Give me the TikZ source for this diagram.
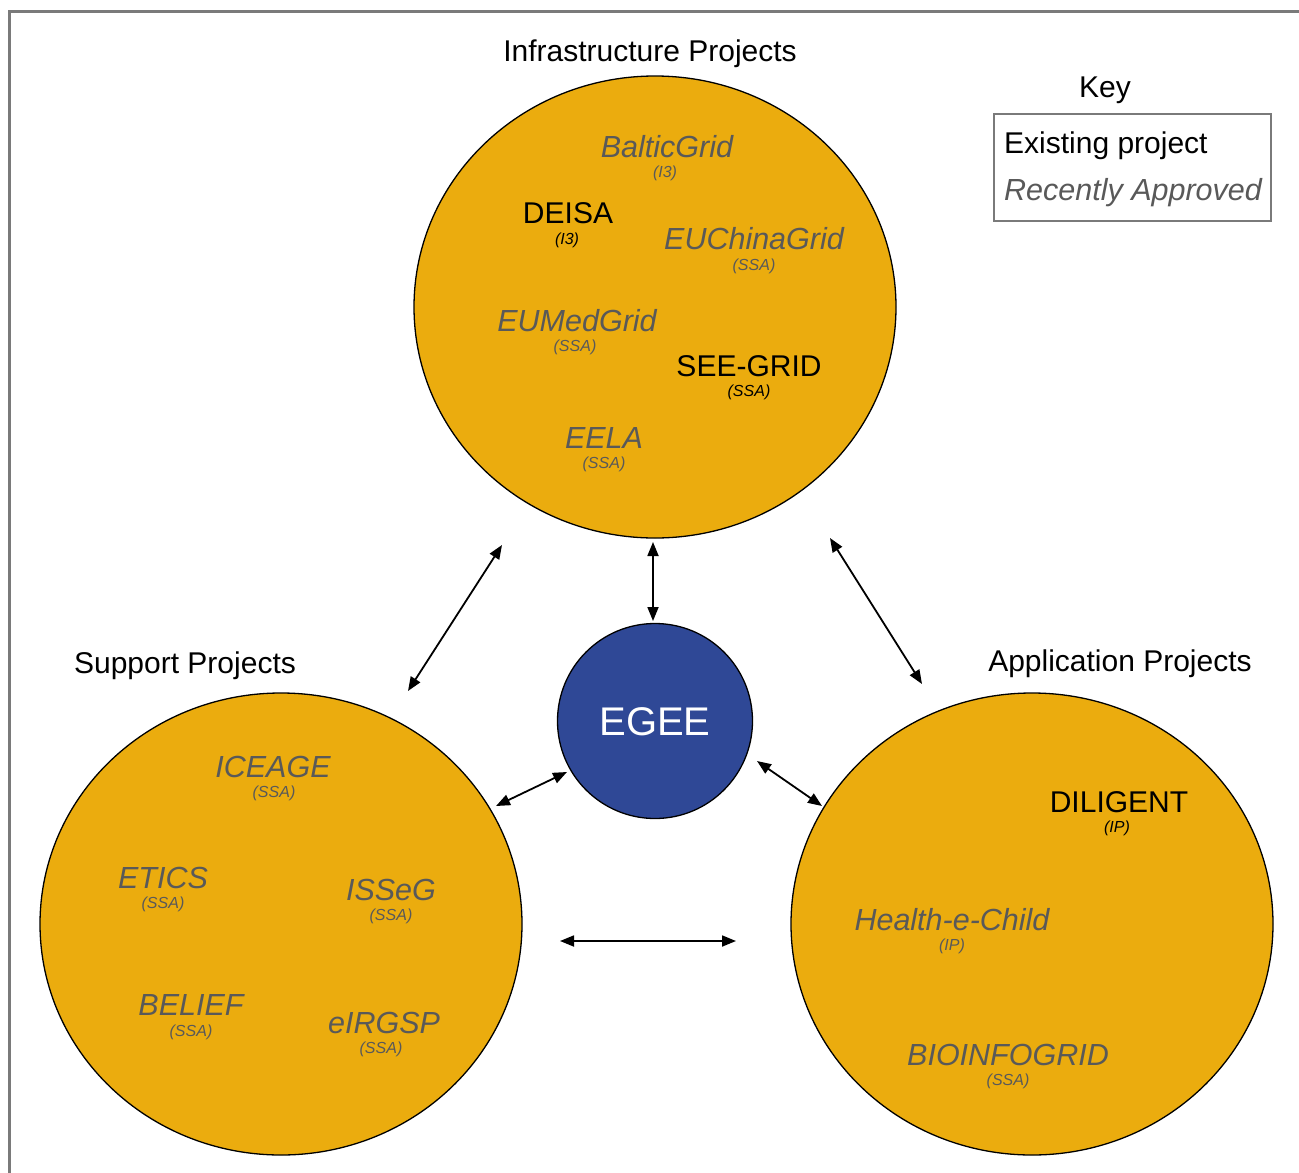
\documentclass[tikz,border=0pt]{standalone}
\usepackage{fontspec}
\setmainfont{Liberation Sans}
\usetikzlibrary{shapes.geometric,arrows.meta}
\definecolor{projorange}{HTML}{EBAC0E}
\definecolor{egeeblue}{HTML}{2F4896}
\definecolor{recentgray}{HTML}{595959}
\definecolor{framegray}{HTML}{7A7A7A}
\tikzset{
  group/.style={ellipse, draw=black, line width=1.3pt, fill=projorange, minimum width=482pt, minimum height=462pt, inner sep=0pt},
  core/.style={circle, draw=black, line width=1.3pt, fill=egeeblue, minimum size=195pt, inner sep=0pt},
  big/.style={anchor=base, inner sep=0pt, font=\fontsize{30}{30}\selectfont},
  head/.style={anchor=base, inner sep=0pt, font=\fontsize{30}{30}\selectfont},
  small/.style={anchor=base, inner sep=0pt, font=\itshape\fontsize{16}{16}\selectfont},
  existing/.style={big, text=black},
  recent/.style={big, text=recentgray, font=\itshape\fontsize{30.5}{30.5}\selectfont},
  existsub/.style={small, text=black},
  recentsub/.style={small, text=recentgray},
  link/.style={line width=1.8pt, {Triangle[length=14pt,width=11pt]}-{Triangle[length=14pt,width=11pt]}},
}
\begin{document}
\begin{tikzpicture}[x=1pt,y=-1pt]
\useasboundingbox (0,0) rectangle (1299,1173);
\fill[white] (0,0) rectangle (1299,1173);
% frame
\draw[framegray, line width=3pt] (9.5,1173) -- (9.5,11.5) -- (1299,11.5);

% groups
\node[group] (infra) at (655,307) {};
\node[group] (support) at (281,924) {};
\node[group] (appl) at (1032,924) {};
\node[core] (egee) at (655,721) {};
\node[anchor=base, inner sep=0pt, text=white, font=\fontsize{40}{40}\selectfont] (egeetext) at (655,735) {EGEE};

% headings
\node[head] (hinfra) at (650,61) {Infrastructure Projects};
\node[head] (hsupport) at (185,673) {Support Projects};
\node[head] (happl) at (1120,671) {Application Projects};

% key
\node[head] (keytitle) at (1105,97) {Key};
\draw[framegray, line width=2.5pt] (994,114) rectangle (1271,221);
\node[existing, anchor=base west] (keyexist) at (1004,153) {Existing project};
\node[recent, anchor=base west] (keyrecent) at (1004,200) {Recently Approved};

% infrastructure projects
\node[recent] (baltic) at (667,157) {BalticGrid};
\node[recentsub] (balticsub) at (665,177) {(I3)};
\node[existing] (deisa) at (568,223) {DEISA};
\node[existsub] (deisasub) at (567,244) {(I3)};
\node[recent] (euchina) at (754,249) {EUChinaGrid};
\node[recentsub] (euchinasub) at (754,270) {(SSA)};
\node[recent] (eumed) at (577,331) {EUMedGrid};
\node[recentsub] (eumedsub) at (575,351) {(SSA)};
\node[existing] (seegrid) at (749,376) {SEE-GRID};
\node[existsub] (seegridsub) at (749,396) {(SSA)};
\node[recent] (eela) at (604,448) {EELA};
\node[recentsub] (eelasub) at (604,468) {(SSA)};

% support projects
\node[recent] (iceage) at (273,777) {ICEAGE};
\node[recentsub] (iceagesub) at (274,797) {(SSA)};
\node[recent] (etics) at (163,888) {ETICS};
\node[recentsub] (eticssub) at (163,908) {(SSA)};
\node[recent] (isseg) at (391,900) {ISSeG};
\node[recentsub] (issegsub) at (391,920) {(SSA)};
\node[recent] (belief) at (191,1015) {BELIEF};
\node[recentsub] (beliefsub) at (191,1036) {(SSA)};
\node[recent] (eirgsp) at (384,1033) {eIRGSP};
\node[recentsub] (eirgspsub) at (381,1053) {(SSA)};

% application projects
\node[existing] (diligent) at (1119,812) {DILIGENT};
\node[existsub] (diligentsub) at (1117,832) {(IP)};
\node[recent] (health) at (952,930) {Health-e-Child};
\node[recentsub] (healthsub) at (952,950) {(IP)};
\node[recent] (bioinfo) at (1008,1065) {BIOINFOGRID};
\node[recentsub] (bioinfosub) at (1008,1085) {(SSA)};

% connector ends
\coordinate (c1a) at (502,545);
\coordinate (c1b) at (408,691);
\coordinate (c2a) at (653,542);
\coordinate (c2b) at (653,621);
\coordinate (c3a) at (830,538);
\coordinate (c3b) at (922,684);
\coordinate (c4a) at (496,806);
\coordinate (c4b) at (567,772);
\coordinate (c5a) at (757,761);
\coordinate (c5b) at (822,806);
\coordinate (c6a) at (560,941);
\coordinate (c6b) at (736,941);

\draw[link] (c1a) -- (c1b);
\draw[link] (c2a) -- (c2b);
\draw[link] (c3a) -- (c3b);
\draw[link] (c4a) -- (c4b);
\draw[link] (c5a) -- (c5b);
\draw[link] (c6a) -- (c6b);
\end{tikzpicture}
\end{document}
